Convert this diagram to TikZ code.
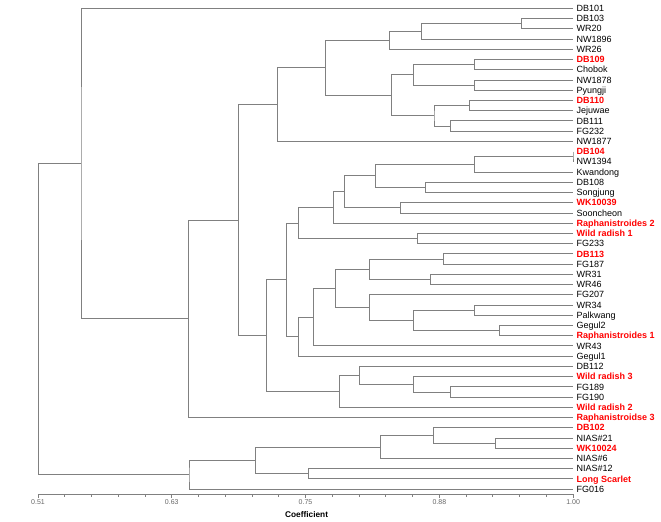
\documentclass[tikz,border=0pt]{standalone}
\usepackage{fontspec}
\setmainfont{Liberation Sans}
\usetikzlibrary{positioning}

\begin{document}
\begin{tikzpicture}[
    % one x unit = coefficient 1, one y unit = one leaf row
    x=1091.84pt, y=-10.23pt, shift={(-518.84pt,1.93pt)},
    branch/.style={draw=gray, line width=0.8pt},
    leaf/.style={anchor=west, inner xsep=3.5pt, inner ysep=0pt,
      text height=6.4pt, text depth=0pt, font=\fontsize{9}{10}\selectfont},
    wild/.style={leaf, text=red, font=\fontsize{9}{10}\selectfont\bfseries},
    ticklabel/.style={text=black!60, inner sep=0pt, font=\fontsize{7}{8}\selectfont},
  ]
  \useasboundingbox (0.4752,0.1887) rectangle (1.0806,51.117);
  % --- leaves, top to bottom ---
  \foreach \name/\sty/\txt [count=\r] in {
      db101/leaf/DB101, db103/leaf/DB103, wr20/leaf/WR20, nw1896/leaf/NW1896,
      wr26/leaf/WR26, db109/wild/DB109, chobok/leaf/Chobok, nw1878/leaf/NW1878,
      pyungji/leaf/Pyungji, db110/wild/DB110, jejuwae/leaf/Jejuwae,
      db111/leaf/DB111, fg232/leaf/FG232, nw1877/leaf/NW1877, db104/wild/DB104,
      nw1394/leaf/NW1394, kwandong/leaf/Kwandong, db108/leaf/DB108,
      songjung/leaf/Songjung, wk10039/wild/WK10039, sooncheon/leaf/Sooncheon,
      raph2/wild/Raphanistroides 2, wild1/wild/Wild radish 1, fg233/leaf/FG233,
      db113/wild/DB113, fg187/leaf/FG187, wr31/leaf/WR31, wr46/leaf/WR46,
      fg207/leaf/FG207, wr34/leaf/WR34, palkwang/leaf/Palkwang,
      gegul2/leaf/Gegul2, raph1/wild/Raphanistroides 1, wr43/leaf/WR43,
      gegul1/leaf/Gegul1, db112/leaf/DB112, wild3/wild/Wild radish 3,
      fg189/leaf/FG189, fg190/leaf/FG190, wild2/wild/Wild radish 2,
      raph3/wild/Raphanistroidse 3, db102/wild/DB102, nias21/leaf/NIAS\#21,
      wk10024/wild/WK10024, nias6/leaf/NIAS\#6, nias12/leaf/NIAS\#12,
      scarlet/wild/Long Scarlet, fg016/leaf/FG016}
    \node[\sty] (\name) at (1,\r) {\txt};
  % --- merge points (coefficient, row) ---
  \coordinate (d5) at (0.953,2.5);
  \coordinate (d4) at (0.8614,3.25);
  \coordinate (d2) at (0.8318,4.125);
  \coordinate (d8) at (0.9096,6.5);
  \coordinate (d9) at (0.9096,8.5);
  \coordinate (d6) at (0.8535,7.5);
  \coordinate (d10) at (0.905,10.5);
  \coordinate (d11) at (0.8873,12.5);
  \coordinate (d7) at (0.8727,11.5);
  \coordinate (d3) at (0.834,9.5);
  \coordinate (d1) at (0.7733,6.8125);
  \coordinate (d) at (0.7295,10.406);
  \coordinate (f0) at (1.0,15.5);
  \coordinate (f1) at (0.9093,16.25);
  \coordinate (f2) at (0.8644,18.5);
  \coordinate (f3) at (0.8193,17.375);
  \coordinate (f5) at (0.8416,20.5);
  \coordinate (f4) at (0.7903,18.9375);
  \coordinate (e5) at (0.7808,20.469);
  \coordinate (e6) at (0.8578,23.5);
  \coordinate (e3) at (0.7484,21.984);
  \coordinate (g5) at (0.8812,25.5);
  \coordinate (g6) at (0.869,27.5);
  \coordinate (g3) at (0.8134,26.5);
  \coordinate (g8) at (0.9096,30.5);
  \coordinate (g9) at (0.9322,32.5);
  \coordinate (g7) at (0.8537,31.5);
  \coordinate (g4) at (0.8134,30.25);
  \coordinate (g2) at (0.7827,28.375);
  \coordinate (g) at (0.7621,31.1875);
  \coordinate (e4) at (0.7484,33.094);
  \coordinate (e1) at (0.7378,27.539);
  \coordinate (h3) at (0.8873,38.5);
  \coordinate (h2) at (0.8537,37.75);
  \coordinate (h1) at (0.8043,36.875);
  \coordinate (e2) at (0.786,38.4375);
  \coordinate (e) at (0.7195,32.988);
  \coordinate (c) at (0.694,21.697);
  \coordinate (b) at (0.648,31.349);
  \coordinate (a) at (0.5494,16.174);
  \coordinate (u) at (0.9286,43.5);
  \coordinate (v) at (0.8721,42.75);
  \coordinate (x) at (0.8235,43.875);
  \coordinate (w) at (0.7579,46.5);
  \coordinate (y) at (0.709,45.1875);
  \coordinate (z) at (0.6483,46.594);
  \coordinate (root) at (0.51,31.384);
  % --- brackets ---
  \foreach \p/\s/\t in {d5/db103/wr20, d4/d5/nw1896, d2/d4/wr26,
      d8/db109/chobok, d9/nw1878/pyungji, d6/d8/d9, d10/db110/jejuwae,
      d11/db111/fg232, d7/d10/d11, d3/d6/d7, d1/d2/d3, d/d1/nw1877,
      f0/db104/nw1394, f1/f0/kwandong, f2/db108/songjung, f3/f1/f2,
      f5/wk10039/sooncheon, f4/f3/f5, e5/f4/raph2, e6/wild1/fg233, e3/e5/e6,
      g5/db113/fg187, g6/wr31/wr46, g3/g5/g6, g8/wr34/palkwang,
      g9/gegul2/raph1, g7/g8/g9, g4/fg207/g7, g2/g3/g4, g/g2/wr43,
      e4/g/gegul1, e1/e3/e4, h3/fg189/fg190, h2/wild3/h3, h1/db112/h2,
      e2/h1/wild2, e/e1/e2, c/d/e, b/c/raph3, a/db101/b,
      u/nias21/wk10024, v/db102/u, x/v/nias6, w/nias12/scarlet, y/x/w,
      z/y/fg016, root/a/z}
    \draw[branch] (\s) -| (\p) |- (\t);
  % --- coefficient axis ---
  \draw[branch] (0.51,48.48) -- (1,48.48);
  \foreach \k in {0,...,20}
    \draw[branch] ({0.51+0.0245*\k},48.48) -- ++(0pt,-2.5pt);
  \foreach \k/\v in {0/0.51, 5/0.63, 10/0.75, 15/0.88, 20/1.00} {
    \draw[branch] ({0.51+0.0245*\k},48.48) -- ++(0pt,-4pt);
    \node[ticklabel] (tick\k) at ({0.51+0.0245*\k},49.26) {\v};
  }
  \node[font=\fontsize{8.3}{9}\selectfont\bfseries, inner sep=0pt]
    (coef) at (0.756,50.5) {Coefficient};
\end{tikzpicture}
\end{document}
